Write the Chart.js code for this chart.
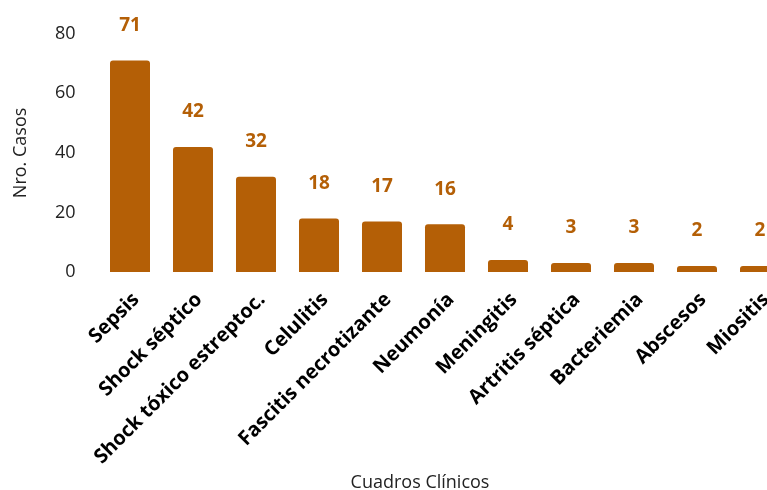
<!DOCTYPE html>
<html>
<head>
<meta charset="utf-8">
<script src="https://cdn.jsdelivr.net/npm/chart.js@4.4.1/dist/chart.umd.min.js"></script>
<style>
  html, body { margin: 0; padding: 0; background: #ffffff; overflow: hidden; }
  #wrap { position: relative; width: 840px; height: 490px; }
</style>
</head>
<body>
<div id="wrap"><canvas id="c"></canvas></div>
<script>
const categories = ["Sepsis", "Shock séptico", "Shock tóxico estreptoc.", "Celulitis", "Fascitis necrotizante", "Neumonía", "Meningitis", "Artritis séptica", "Bacteriemia", "Abscesos", "Miositis"];
const casos = [71, 42, 32, 18, 17, 16, 4, 3, 3, 2, 2];
const yTicks = [0, 20, 40, 60, 80];
const yTitle = "Nro. Casos";
const xTitle = "Cuadros Clínicos";

const BAR = "#B45F06";
const FONT = "'Open Sans', 'DejaVu Sans', sans-serif";

const valueLabels = {
  id: 'valueLabels',
  afterDatasetsDraw(chart) {
    const ctx = chart.ctx;
    const meta = chart.getDatasetMeta(0);
    ctx.save();
    ctx.font = "bold 19px " + FONT;
    ctx.fillStyle = BAR;
    ctx.textAlign = 'center';
    ctx.textBaseline = 'middle';
    meta.data.forEach((bar, i) => {
      ctx.fillText(String(casos[i]), bar.x, bar.y - 35);
    });
    ctx.restore();
  }
};

new Chart(document.getElementById('c'), {
  type: 'bar',
  data: {
    labels: categories,
    datasets: [{
      data: casos,
      backgroundColor: BAR,
      borderRadius: { topLeft: 3, topRight: 3, bottomLeft: 0, bottomRight: 0 },
      borderSkipped: 'bottom',
      categoryPercentage: 1,
      barPercentage: 0.635
    }]
  },
  options: {
    responsive: true,
    maintainAspectRatio: false,
    animation: false,
    events: [],
    layout: { padding: { top: 29, right: 0, left: 0, bottom: 0 } },
    plugins: {
      legend: { display: false },
      tooltip: { enabled: false },
      title: {
        display: true,
        text: xTitle,
        position: 'bottom',
        color: '#222222',
        font: { family: FONT, size: 18, weight: 'normal', lineHeight: 0.8 },
        padding: { top: 0, bottom: 0 }
      }
    },
    scales: {
      x: {
        grid: { display: false, drawTicks: false },
        border: { display: false },
        ticks: {
          autoSkip: false,
          minRotation: 45,
          maxRotation: 45,
          padding: 16,
          labelOffset: 6,
          color: '#000000',
          font: { family: FONT, size: 20, weight: 'bold' }
        },
        afterFit(scale) { scale.height = 203.6; }
      },
      y: {
        min: 0,
        max: 80,
        afterBuildTicks(scale) { scale.ticks = yTicks.map(v => ({ value: v })); },
        grid: { display: false, drawTicks: false },
        border: { display: false },
        ticks: {
          padding: 23,
          color: '#222222',
          font: { family: FONT, size: 18 }
        },
        title: {
          display: true,
          text: yTitle,
          color: '#222222',
          font: { family: FONT, size: 18, weight: 'normal' },
          padding: { top: 10, bottom: 0 }
        },
        afterFit(scale) { scale.width = 98.5; }
      },
      yRight: {
        type: 'linear',
        position: 'right',
        min: 0,
        max: 80,
        grid: { display: false, drawTicks: false },
        border: { display: false },
        ticks: { display: false },
        afterFit(scale) { scale.width = 48.5; }
      }
    }
  },
  plugins: [valueLabels]
});
</script>
</body>
</html>
